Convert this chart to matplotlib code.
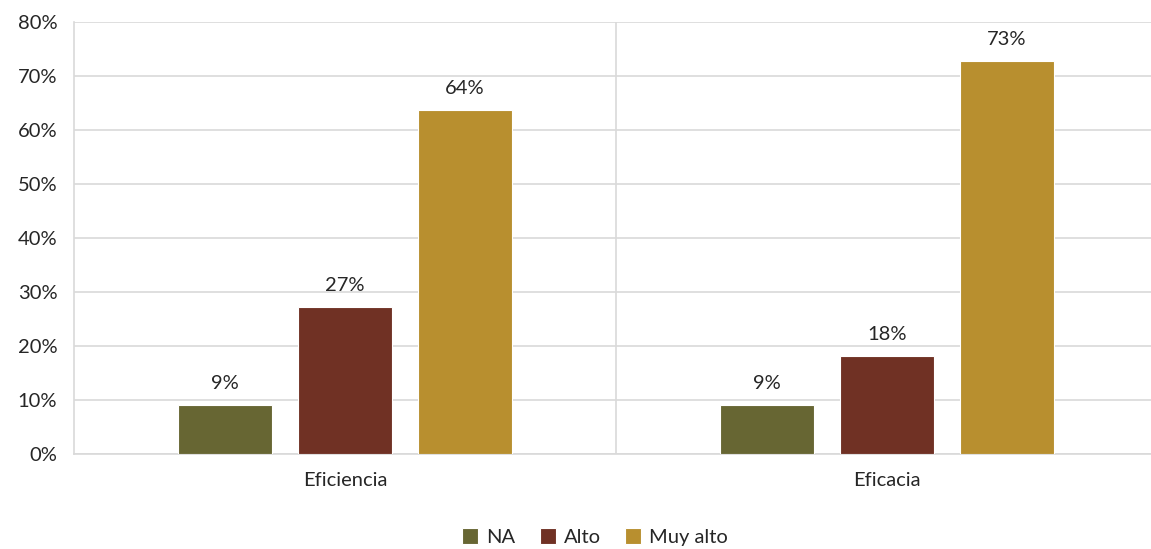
import matplotlib
matplotlib.use("Agg")
import matplotlib.pyplot as plt
import numpy as np

categories = ["Eficiencia", "Eficacia"]
series = ["NA", "Alto", "Muy alto"]
na_vals = [0.0909, 0.0909]
alto_vals = [0.2727, 0.1818]
muy_alto_vals = [0.6364, 0.7273]
labels_na = ["9%", "9%"]
labels_alto = ["27%", "18%"]
labels_muy = ["64%", "73%"]
colors = ["#676633", "#703124", "#B88F2F"]
yticks = [0, 0.1, 0.2, 0.3, 0.4, 0.5, 0.6, 0.7, 0.8]

plt.rcParams['font.family'] = ['Lato', 'DejaVu Sans']
FS = 14.5
W, H = 1151, 549
fig = plt.figure(figsize=(W/100, H/100), dpi=100)
ax = fig.add_axes([74/W, 1-454/H, (W-74)/W, (454-22)/H])

x = np.arange(len(categories))
bw = 94/542
step = 120/542
data = [na_vals, alto_vals, muy_alto_vals]
labs = [labels_na, labels_alto, labels_muy]
for i, (vals, lab) in enumerate(zip(data, labs)):
    bars = ax.bar(x + (i-1)*step, vals, width=bw, color=colors[i], edgecolor="white",
                  linewidth=0.8, label=series[i], zorder=3)
    for b, t in zip(bars, lab):
        ax.text(b.get_x()+b.get_width()/2, b.get_height()+0.024, t, ha="center", va="bottom",
                fontsize=FS, color="#262626")

ax.set_xlim(-0.5, -0.5 + (W-74)/542)
ax.set_ylim(0, 0.8)
ax.set_yticks(yticks)
ax.set_yticklabels([f"{int(round(v*100))}%" for v in yticks], fontsize=FS, color="#262626")
ax.set_xticks(x)
ax.set_xticklabels(categories, fontsize=FS, color="#262626")
ax.tick_params(axis="both", length=0)
ax.tick_params(axis="x", pad=13)
ax.tick_params(axis="y", pad=12)
ax.grid(axis="y", color="#d9d9d9", linewidth=1.2, zorder=0)
ax.axvline(0.5, color="#d9d9d9", linewidth=1.2, zorder=0)
for s in ["top", "right"]:
    ax.spines[s].set_visible(False)
ax.spines["left"].set_color("#d9d9d9")
ax.spines["bottom"].set_color("#d9d9d9")
ax.spines["left"].set_linewidth(1.2)
ax.spines["bottom"].set_linewidth(1.2)

fig.legend(loc="center", bbox_to_anchor=(595/W, 1-537/H), ncol=3, frameon=False,
           fontsize=FS, handlelength=0.8, handleheight=0.8, handletextpad=0.4, columnspacing=1.2,
           labelcolor="#262626")
fig.savefig("out.png", dpi=100)
